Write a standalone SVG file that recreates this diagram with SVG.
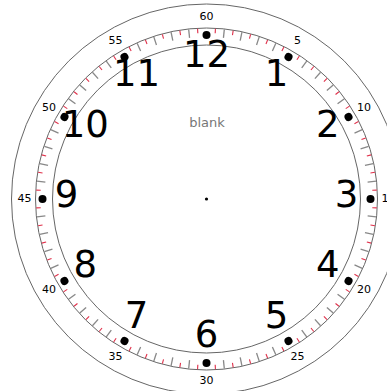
<svg xmlns="http://www.w3.org/2000/svg" xmlns:xlink="http://www.w3.org/1999/xlink" width="387" height="391" viewBox="0 0 387 391">
<style>
.ring{fill:none;stroke:#666;stroke-width:1}
.gt{stroke:#888;stroke-width:1.3}
.rt{stroke:#e0304a;stroke-width:1.1}
.hr{font-family:"DejaVu Sans",sans-serif;font-size:37px;fill:#000;text-anchor:middle}
.mn{font-family:"DejaVu Sans",sans-serif;font-size:11px;fill:#000;text-anchor:middle}
.lbl{font-family:"DejaVu Sans",sans-serif;font-size:13px;fill:#777;text-anchor:middle}
</style>
<defs>
<line id="g" class="gt" x1="0" y1="-162" x2="0" y2="-170.5"/>
<line id="r" class="rt" x1="0" y1="-166" x2="0" y2="-170.5"/>
<circle id="d" cx="0" cy="-164" r="4" fill="#000"/>
</defs>
<rect width="387" height="391" fill="#fff"/>
<g id="rings">
<circle class="ring" cx="206.5" cy="199" r="195"/>
<circle class="ring" cx="206.5" cy="199" r="171" stroke="#888"/>
<circle class="ring" cx="206.5" cy="199" r="154"/>
</g>
<g id="ticks" transform="translate(206.5 199)">
<use xlink:href="#g" transform="rotate(6)"/><use xlink:href="#g" transform="rotate(12)"/><use xlink:href="#g" transform="rotate(18)"/><use xlink:href="#g" transform="rotate(24)"/>
<use xlink:href="#g" transform="rotate(36)"/><use xlink:href="#g" transform="rotate(42)"/><use xlink:href="#g" transform="rotate(48)"/><use xlink:href="#g" transform="rotate(54)"/>
<use xlink:href="#g" transform="rotate(66)"/><use xlink:href="#g" transform="rotate(72)"/><use xlink:href="#g" transform="rotate(78)"/><use xlink:href="#g" transform="rotate(84)"/>
<use xlink:href="#g" transform="rotate(96)"/><use xlink:href="#g" transform="rotate(102)"/><use xlink:href="#g" transform="rotate(108)"/><use xlink:href="#g" transform="rotate(114)"/>
<use xlink:href="#g" transform="rotate(126)"/><use xlink:href="#g" transform="rotate(132)"/><use xlink:href="#g" transform="rotate(138)"/><use xlink:href="#g" transform="rotate(144)"/>
<use xlink:href="#g" transform="rotate(156)"/><use xlink:href="#g" transform="rotate(162)"/><use xlink:href="#g" transform="rotate(168)"/><use xlink:href="#g" transform="rotate(174)"/>
<use xlink:href="#g" transform="rotate(186)"/><use xlink:href="#g" transform="rotate(192)"/><use xlink:href="#g" transform="rotate(198)"/><use xlink:href="#g" transform="rotate(204)"/>
<use xlink:href="#g" transform="rotate(216)"/><use xlink:href="#g" transform="rotate(222)"/><use xlink:href="#g" transform="rotate(228)"/><use xlink:href="#g" transform="rotate(234)"/>
<use xlink:href="#g" transform="rotate(246)"/><use xlink:href="#g" transform="rotate(252)"/><use xlink:href="#g" transform="rotate(258)"/><use xlink:href="#g" transform="rotate(264)"/>
<use xlink:href="#g" transform="rotate(276)"/><use xlink:href="#g" transform="rotate(282)"/><use xlink:href="#g" transform="rotate(288)"/><use xlink:href="#g" transform="rotate(294)"/>
<use xlink:href="#g" transform="rotate(306)"/><use xlink:href="#g" transform="rotate(312)"/><use xlink:href="#g" transform="rotate(318)"/><use xlink:href="#g" transform="rotate(324)"/>
<use xlink:href="#g" transform="rotate(336)"/><use xlink:href="#g" transform="rotate(342)"/><use xlink:href="#g" transform="rotate(348)"/><use xlink:href="#g" transform="rotate(354)"/>
<use xlink:href="#r" transform="rotate(3)"/><use xlink:href="#r" transform="rotate(9)"/><use xlink:href="#r" transform="rotate(15)"/><use xlink:href="#r" transform="rotate(21)"/><use xlink:href="#r" transform="rotate(27)"/><use xlink:href="#r" transform="rotate(33)"/>
<use xlink:href="#r" transform="rotate(39)"/><use xlink:href="#r" transform="rotate(45)"/><use xlink:href="#r" transform="rotate(51)"/><use xlink:href="#r" transform="rotate(57)"/><use xlink:href="#r" transform="rotate(63)"/><use xlink:href="#r" transform="rotate(69)"/>
<use xlink:href="#r" transform="rotate(75)"/><use xlink:href="#r" transform="rotate(81)"/><use xlink:href="#r" transform="rotate(87)"/><use xlink:href="#r" transform="rotate(93)"/><use xlink:href="#r" transform="rotate(99)"/><use xlink:href="#r" transform="rotate(105)"/>
<use xlink:href="#r" transform="rotate(111)"/><use xlink:href="#r" transform="rotate(117)"/><use xlink:href="#r" transform="rotate(123)"/><use xlink:href="#r" transform="rotate(129)"/><use xlink:href="#r" transform="rotate(135)"/><use xlink:href="#r" transform="rotate(141)"/>
<use xlink:href="#r" transform="rotate(147)"/><use xlink:href="#r" transform="rotate(153)"/><use xlink:href="#r" transform="rotate(159)"/><use xlink:href="#r" transform="rotate(165)"/><use xlink:href="#r" transform="rotate(171)"/><use xlink:href="#r" transform="rotate(177)"/>
<use xlink:href="#r" transform="rotate(183)"/><use xlink:href="#r" transform="rotate(189)"/><use xlink:href="#r" transform="rotate(195)"/><use xlink:href="#r" transform="rotate(201)"/><use xlink:href="#r" transform="rotate(207)"/><use xlink:href="#r" transform="rotate(213)"/>
<use xlink:href="#r" transform="rotate(219)"/><use xlink:href="#r" transform="rotate(225)"/><use xlink:href="#r" transform="rotate(231)"/><use xlink:href="#r" transform="rotate(237)"/><use xlink:href="#r" transform="rotate(243)"/><use xlink:href="#r" transform="rotate(249)"/>
<use xlink:href="#r" transform="rotate(255)"/><use xlink:href="#r" transform="rotate(261)"/><use xlink:href="#r" transform="rotate(267)"/><use xlink:href="#r" transform="rotate(273)"/><use xlink:href="#r" transform="rotate(279)"/><use xlink:href="#r" transform="rotate(285)"/>
<use xlink:href="#r" transform="rotate(291)"/><use xlink:href="#r" transform="rotate(297)"/><use xlink:href="#r" transform="rotate(303)"/><use xlink:href="#r" transform="rotate(309)"/><use xlink:href="#r" transform="rotate(315)"/><use xlink:href="#r" transform="rotate(321)"/>
<use xlink:href="#r" transform="rotate(327)"/><use xlink:href="#r" transform="rotate(333)"/><use xlink:href="#r" transform="rotate(339)"/><use xlink:href="#r" transform="rotate(345)"/><use xlink:href="#r" transform="rotate(351)"/><use xlink:href="#r" transform="rotate(357)"/>
</g>
<g id="dots" transform="translate(206.5 199)">
<use xlink:href="#d"/><use xlink:href="#d" transform="rotate(30)"/><use xlink:href="#d" transform="rotate(60)"/><use xlink:href="#d" transform="rotate(90)"/>
<use xlink:href="#d" transform="rotate(120)"/><use xlink:href="#d" transform="rotate(150)"/><use xlink:href="#d" transform="rotate(180)"/><use xlink:href="#d" transform="rotate(210)"/>
<use xlink:href="#d" transform="rotate(240)"/><use xlink:href="#d" transform="rotate(270)"/><use xlink:href="#d" transform="rotate(300)"/><use xlink:href="#d" transform="rotate(330)"/>
<circle cx="0" cy="0" r="1.6" fill="#000"/>
</g>
<g id="minutes">
<text class="mn" x="297.5" y="44.4">5</text>
<text class="mn" x="364.1" y="111">10</text>
<text class="mn" x="388.5" y="202">15</text>
<text class="mn" x="364.1" y="293">20</text>
<text class="mn" x="297.5" y="359.6">25</text>
<text class="mn" x="206.5" y="384">30</text>
<text class="mn" x="115.5" y="359.6">35</text>
<text class="mn" x="48.9" y="293">40</text>
<text class="mn" x="24.5" y="202">45</text>
<text class="mn" x="48.9" y="111">50</text>
<text class="mn" x="115.5" y="44.4">55</text>
<text class="mn" x="206.5" y="20">60</text>
</g>
<g id="hours">
<text class="hr" x="276.5" y="85.8">1</text>
<text class="hr" x="327.7" y="137">2</text>
<text class="hr" x="346.5" y="207">3</text>
<text class="hr" x="327.7" y="277">4</text>
<text class="hr" x="276.5" y="328.2">5</text>
<text class="hr" x="206.5" y="347">6</text>
<text class="hr" x="136.5" y="328.2">7</text>
<text class="hr" x="85.3" y="277">8</text>
<text class="hr" x="66.5" y="207">9</text>
<text class="hr" x="85.3" y="137">10</text>
<text class="hr" x="136.5" y="85.8">11</text>
<text class="hr" x="206.5" y="67">12</text>
</g>
<text id="blank" class="lbl" x="207" y="127">blank</text>
</svg>
